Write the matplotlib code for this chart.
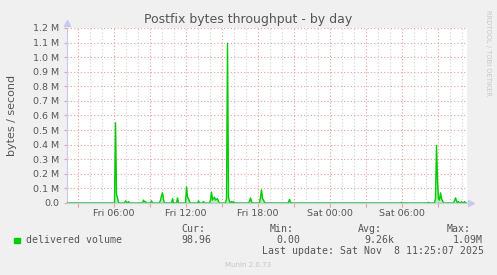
#!/usr/bin/env python
# -*- coding: utf-8 -*-

import numpy as np
import matplotlib
matplotlib.use('Agg')
from matplotlib import pyplot as plt

W, H = 497, 275

# minutes since Fri 00:00 and bytes/second (5 minute samples, zero elsewhere)
spike_min = [370, 375, 380, 385, 420, 425, 435, 510, 515, 520, 550,
             595, 600, 605, 610, 655, 680, 725, 730, 735, 740, 785, 810,
             845, 850, 855, 860, 865, 870, 875, 880, 885,
             925, 930, 935, 940, 950, 960, 1040, 1045, 1050,
             1095, 1100, 1105, 1110, 1115, 1235, 1240, 1245,
             1800, 1935, 1970, 1975, 1980, 1985, 1990, 1995, 2000, 2005,
             2065, 2070, 2075, 2085, 2100, 2115]
spike_val = [550000, 60000, 35000, 5000, 15000, 5000, 10000, 20000, 8000, 10000, 15000,
             20000, 50000, 70000, 25000, 30000, 35000, 110000, 40000, 30000, 10000, 15000, 10000,
             20000, 75000, 20000, 30000, 40000, 20000, 25000, 30000, 10000,
             30000, 1095000, 40000, 10000, 10000, 10000, 10000, 35000, 10000,
             40000, 90000, 30000, 20000, 5000, 5000, 25000, 5000,
             5000, 5000, 30000, 395000, 150000, 30000, 20000, 70000, 30000, 15000,
             15000, 35000, 15000, 10000, 10000, 10000]

start_min, end_min = 125, 2125   # Fri 02:05 .. Sat 11:25
tick_hours = [6, 12, 18, 24, 30]
tick_labels = ['Fri 06:00', 'Fri 12:00', 'Fri 18:00', 'Sat 00:00', 'Sat 06:00']
y_ticks = [i * 100000 for i in range(13)]
y_labels = ['0.0'] + ['%.1f M' % (i / 10) for i in range(1, 13)]

legend_stats = [('Cur:', '98.96'), ('Min:', '0.00'), ('Avg:', '9.26k'), ('Max:', '1.09M')]

GREY = '#555555'


def px(x, y):
    return x / W, 1 - y / H


def main():
    t = np.arange(start_min, end_min + 1, 5)
    v = np.zeros(len(t))
    for m, val in zip(spike_min, spike_val):
        v[(m - start_min) // 5] = val
    hours = t / 60.0

    fig = plt.figure(figsize=(W / 100, H / 100), dpi=100, facecolor='#f0f0f0')
    l, b = px(66.5, 203)
    r, tp = px(466.5, 28)
    ax = fig.add_axes([l, b, r - l, tp - b])
    ax.set_facecolor('white')
    ax.set_xlim(start_min / 60, end_min / 60)
    ax.set_ylim(0, 1200000)

    # grid
    for h in range(3, 36):
        if h % 3 == 0:
            ax.axvline(h, color='#e8a0a0', lw=0.8, ls=(0, (1, 2)), zorder=1)
        else:
            ax.axvline(h, color='#d0d0d0', lw=0.8, ls=(0, (1, 2)), zorder=1)
    for yv in y_ticks[1:]:
        ax.axhline(yv, color='#e8a0a0', lw=0.8, ls=(0, (1, 2)), zorder=1)

    ax.fill_between(hours, v, color='#00cc00', alpha=0.3, lw=0, zorder=2)
    ax.plot(hours, v, color='#00cc00', lw=1.0, zorder=3)
    # zero baseline looks paler in the original
    ax.axhline(0, color='#8fd88f', lw=1.0, zorder=4)

    for s in ['top', 'right']:
        ax.spines[s].set_visible(False)
    for s in ['left', 'bottom']:
        ax.spines[s].set_color('#c8c8f0')
        ax.spines[s].set_linewidth(0.8)
    ax.plot([0], [1.03], marker='^', ms=4, color='#c8c8f0', transform=ax.transAxes, clip_on=False)
    ax.plot([1.012], [0], marker='>', ms=4, color='#c8c8f0', transform=ax.transAxes, clip_on=False)

    ax.set_xticks(range(3, 36, 3))
    ax.set_xticklabels([''] * 11)
    ax.tick_params(axis='x', length=3, color='#e8a0a0', width=0.8)
    ax.set_yticks(y_ticks)
    ax.set_yticklabels(y_labels, fontsize=6.8, color=GREY)
    ax.tick_params(axis='y', length=2, color='#e8a0a0', width=0.8, pad=3)
    for h, lab in zip(tick_hours, tick_labels):
        ax.text(h, -0.032, lab, transform=ax.get_xaxis_transform(), ha='center', va='top',
                fontsize=6.8, color=GREY)

    fig.text(*px(248, 19), 'Postfix bytes throughput - by day', ha='center', va='center',
             fontsize=9, color=GREY)
    fig.text(*px(12, 115), 'bytes / second', rotation=90, ha='center', va='center',
             fontsize=8, color=GREY)
    fig.text(*px(488, 53), 'RRDTOOL / TOBI OETIKER', rotation=-90, ha='center', va='center',
             fontsize=4.9, color='#c8c8c8')

    mono = dict(family='DejaVu Sans Mono', fontsize=7.1, color=GREY, va='center')
    fig.patches.append(plt.Rectangle(px(14, 243), 5.5 / W, 5.5 / H, color='#00cc00',
                                     transform=fig.transFigure, figure=fig))
    fig.text(*px(26, 240), 'delivered volume', **mono)
    cols = [(181, 181), (270, 276), (358, 364), (447, 453)]
    for (hx, vx), (head, val) in zip(cols, legend_stats):
        fig.text(*px(hx, 228.5), head, **mono)
        fig.text(*px(vx, 240), val, **mono)
    fig.text(*px(262, 251), 'Last update: Sat Nov  8 11:25:07 2025', **mono)
    fig.text(*px(248, 265), 'Munin 2.0.73', ha='center', va='center', fontsize=5,
             color='#c4c4c4')

    fig.savefig('out.png', dpi=100, facecolor=fig.get_facecolor())


if __name__ == '__main__':
    main()
